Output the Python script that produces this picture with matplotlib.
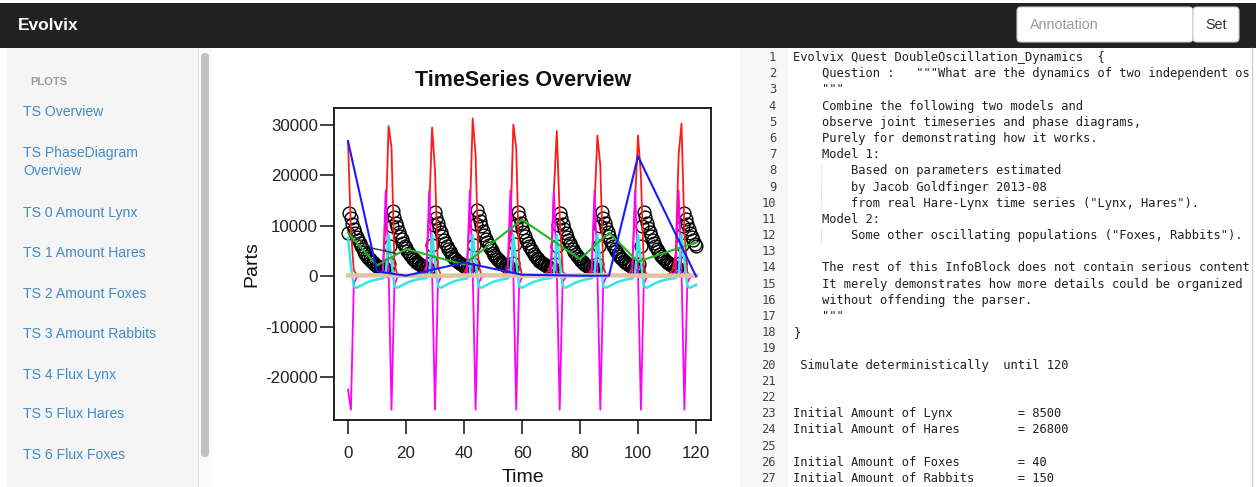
import numpy as np
import matplotlib.pyplot as plt
from matplotlib.patches import Rectangle, FancyBboxPatch

# simulation output, one value per time unit
t = list(range(0, 121))

hares = [26800, 9000, 1200, 300, 120, 80, 60, 60, 80, 110,
         160, 300, 700, 11000, 29800, 25500, 2500, 300, 100, 60,
         50, 60, 80, 120, 180, 320, 700, 1800, 13000, 29500,
         21000, 1800, 250, 90, 60, 50, 60, 90, 140, 260,
         600, 1800, 12000, 31300, 24000, 2200, 280, 100, 60, 50,
         60, 90, 140, 260, 600, 1500, 9000, 30100, 25500, 2600,
         300, 100, 60, 50, 60, 80, 120, 200, 400, 900,
         2500, 17000, 28800, 12000, 1000, 200, 80, 50, 50, 60,
         90, 150, 280, 600, 1500, 14000, 27900, 22000, 1900, 250,
         90, 60, 50, 60, 90, 150, 280, 600, 1600, 15000,
         27900, 20000, 1600, 220, 80, 50, 50, 60, 90, 150,
         280, 550, 1300, 4500, 24000, 30300, 9000, 800, 180, 80,
         60]

flux_hares = [-22500, -26500, -1500, -200, 50, 50, 50, 50, 50, 60,
              80, 150, 600, 17000, 1000, -26500, -1800, -200, 40, 40,
              40, 50, 60, 80, 100, 150, 250, 500, 17000, 1000,
              -26500, -1500, -200, 40, 40, 40, 50, 60, 80, 150,
              250, 500, 17000, 1000, -26500, -1500, -200, 40, 40, 40,
              50, 60, 80, 150, 250, 400, 17000, 1000, -26500, -1500,
              -200, 40, 40, 40, 50, 60, 80, 120, 200, 350,
              600, 17000, 800, -26500, -1200, -200, 40, 40, 40, 50,
              60, 80, 150, 250, 500, 17000, 1000, -26500, -1500, -200,
              40, 40, 40, 50, 60, 80, 150, 250, 500, 17000,
              1000, -26500, -1500, -200, 40, 40, 40, 50, 60, 80,
              150, 250, 400, 800, 17000, 1000, -26500, -1300, -200, -50,
              -20]

flux_lynx = [7600, 2000, -2000, -2300, -2000, -1700, -1400, -1150, -950, -800,
             -650, -550, -450, 300, 8200, 3000, -2000, -2300, -2000, -1700,
             -1400, -1150, -950, -800, -650, -550, -450, -380, 300, 8200,
             3000, -2000, -2300, -2000, -1700, -1400, -1150, -950, -800, -650,
             -550, -450, 300, 8200, 3000, -2000, -2300, -2000, -1700, -1400,
             -1150, -950, -800, -650, -550, -450, 300, 8200, 3000, -2000,
             -2300, -2000, -1700, -1400, -1150, -950, -800, -650, -550, -450,
             -380, 300, 8200, 3000, -2000, -2300, -2000, -1700, -1400, -1150,
             -950, -800, -650, -550, -450, 300, 8200, 3000, -2000, -2300,
             -2000, -1700, -1400, -1150, -950, -800, -650, -550, -450, 300,
             8200, 3000, -2000, -2300, -2000, -1700, -1400, -1150, -950, -800,
             -650, -550, -450, -380, 300, 8200, 3000, -2000, -2300, -2000,
             -1700]

# lynx is reported every half time unit
t_lynx = np.arange(0, 120.5, 0.5)
lynx = [8500,
        12600, 11450, 10400, 9450, 8600, 7850, 7150, 6500, 5900, 5350, 4850, 4450, 4050, 3650,
        3350, 3050, 2750, 2500, 2300, 2100, 1900, 1750, 1600, 1500, 1400, 1350, 1300,
        2500, 6000, 10000,
        12900, 11700, 10650, 9700, 8800, 8000, 7300, 6650, 6050, 5500, 5000, 4550, 4150,
        3750, 3450, 3150, 2850, 2600, 2400, 2200, 2000, 1850, 1700, 1600, 1500, 1450,
        2600, 6200, 10200,
        12800, 11600, 10550, 9600, 8750, 7950, 7250, 6600, 6000, 5450, 4950, 4500, 4100,
        3700, 3400, 3100, 2800, 2550, 2350, 2150, 1950, 1800, 1650, 1550, 1450, 1400,
        2500, 6100, 10300,
        13200, 12000, 10900, 9900, 9000, 8200, 7450, 6800, 6150, 5600, 5100, 4650, 4200,
        3800, 3500, 3200, 2900, 2650, 2400, 2200, 2000, 1850, 1700, 1600, 1500,
        2700, 6300, 10200,
        12800, 11650, 10600, 9650, 8750, 7950, 7250, 6600, 6000, 5450, 4950, 4500, 4100,
        3700, 3400, 3100, 2800, 2550, 2350, 2150, 1950, 1800, 1650, 1550, 1450, 1400,
        2500, 6000, 10100,
        12600, 11450, 10400, 9450, 8600, 7850, 7150, 6500, 5900, 5350, 4850, 4450, 4050,
        3650, 3350, 3050, 2750, 2500, 2300, 2100, 1900, 1750, 1600, 1500, 1400, 1350,
        2400, 5900, 9900,
        12700, 11550, 10500, 9550, 8700, 7900, 7200, 6550, 5950, 5400, 4900, 4500, 4100,
        3700, 3400, 3100, 2800, 2550, 2350, 2150, 1950, 1800, 1650, 1550, 1450, 1400,
        2500, 6000, 10000,
        12800, 11650, 10600, 9650, 8750, 7950, 7250, 6600, 6000, 5450, 4950, 4500, 4100,
        3700, 3400, 3100, 2800, 2550, 2350, 2150, 1950, 1800, 1650, 1550, 1450,
        2600, 6100, 10000,
        12500, 11400, 10350, 9400, 8550, 7800, 7100, 6450, 5900]

# coarse samples
t_coarse = [0, 10, 20, 40, 60, 80, 90, 100, 120]
hares_coarse = [26800, 950, 100, 2700, 300, 100, 100, 23800, 0]
lynx_coarse = [8600, 2100, 5400, 2300, 11200, 3400, 8600, 2900, 6700]

t_grey = [0, 8, 17]
grey_vals = [8600, 5600, 4450]

t_small = [0, 10, 20, 30, 40, 50, 60, 70, 80, 90, 100, 110, 120]
rabbits = [150, 180, 120, 90, 140, 170, 110, 95, 150, 175, 115, 100, 145]
foxes = [40, 35, 55, 60, 38, 33, 52, 62, 40, 34, 50, 60, 42]

xticks = [0, 20, 40, 60, 80, 100, 120]
yticks = [-20000, -10000, 0, 10000, 20000, 30000]
ytick_labels = ['-20000', '-10000', '0', '10000', '20000', '30000']

plot_links = ['TS Overview', 'TS PhaseDiagram\nOverview', 'TS 0 Amount Lynx',
              'TS 1 Amount Hares', 'TS 2 Amount Foxes', 'TS 3 Amount Rabbits',
              'TS 4 Flux Lynx', 'TS 5 Flux Hares', 'TS 6 Flux Foxes']

code_lines = [
    'Evolvix Quest DoubleOscillation_Dynamics  {',
    '    Question :   """What are the dynamics of two independent os',
    '    """',
    '    Combine the following two models and',
    '    observe joint timeseries and phase diagrams,',
    '    Purely for demonstrating how it works.',
    '    Model 1:',
    '        Based on parameters estimated',
    '        by Jacob Goldfinger 2013-08',
    '        from real Hare-Lynx time series ("Lynx, Hares").',
    '    Model 2:',
    '        Some other oscillating populations ("Foxes, Rabbits").',
    '',
    '    The rest of this InfoBlock does not contain serious content',
    '    It merely demonstrates how more details could be organized',
    '    without offending the parser.',
    '    """',
    '}',
    '',
    ' Simulate deterministically  until 120',
    '',
    '',
    'Initial Amount of Lynx         = 8500',
    'Initial Amount of Hares        = 26800',
    '',
    'Initial Amount of Foxes        = 40',
    'Initial Amount of Rabbits      = 150',
]

W, H = 1256, 487
fig = plt.figure(figsize=(W / 100, H / 100), dpi=100)
ui = 'Liberation Sans'

# page layer in pixel coordinates
bg = fig.add_axes([0, 0, 1, 1])
bg.set_xlim(0, W)
bg.set_ylim(H, 0)
bg.axis('off')

# top bar
bg.add_patch(Rectangle((0, 3), W, 45, color='#222222', lw=0))
bg.text(18, 25, 'Evolvix', color='white', fontsize=12.5, fontweight='bold',
        family=ui, va='center')
bg.add_patch(FancyBboxPatch((1017, 7), 176, 35, boxstyle='round,pad=0,rounding_size=4',
                            fc='white', ec='#cccccc', lw=0.8))
bg.text(1030, 25, 'Annotation', color='#999999', fontsize=10.3, family=ui, va='center')
bg.add_patch(FancyBboxPatch((1193, 7), 46, 35, boxstyle='round,pad=0,rounding_size=4',
                            fc='white', ec='#cccccc', lw=0.8))
bg.text(1216, 25, 'Set', color='#333333', fontsize=10.3, family=ui,
        va='center', ha='center')

# sidebar
bg.add_patch(Rectangle((7, 48), 191, H - 48, color='#f5f5f5', lw=0))
bg.add_patch(Rectangle((198, 48), 14, H - 48, color='#fafafa', lw=0))
bg.plot([198, 198], [48, H], color='#e3e3e3', lw=0.8)
bg.add_patch(FancyBboxPatch((201, 53), 8, 404, boxstyle='round,pad=0,rounding_size=4',
                            fc='#c1c1c1', ec='none'))
bg.text(30, 82, 'PLOTS', color='#999999', fontsize=8, fontweight='bold',
        family=ui, va='center')
link_y = [111.5, 162, 212.5, 253, 293.5, 334, 374.5, 414.5, 455]
for label, y in zip(plot_links, link_y):
    bg.text(23, y, label, color='#428bca', fontsize=10.1, family=ui,
            va='center', linespacing=1.45)

# code panel
bg.add_patch(Rectangle((740, 48), 48, H - 48, color='#f7f7f7', lw=0))
bg.plot([1252, 1252], [48, H], color='#d0d0d0', lw=1)
for y0, y1 in [(57 + 6.5 * 16.19, 57 + 9.5 * 16.19), (57 + 10.5 * 16.19, 57 + 11.5 * 16.19)]:
    bg.plot([821, 821], [y0, y1], color='#cfcfcf', lw=0.6, ls=(0, (1, 1)))
for i, line in enumerate(code_lines):
    y = 57.5 + i * 16.19
    bg.text(776, y, str(i + 1), color='#444444', fontsize=8.7,
            family='DejaVu Sans Mono', va='center', ha='right')
    bg.text(793.3, y, line, color='#222222', fontsize=8.7,
            family='DejaVu Sans Mono', va='center')

# chart titles and axis labels
bg.text(523, 80, 'TimeSeries Overview', fontsize=15.5, fontweight='bold',
        family=ui, ha='center', va='center', color='#111111')
bg.text(252, 264, 'Parts', fontsize=14, family=ui, rotation=90,
        ha='center', va='center', color='#111111')
bg.text(522.5, 478, 'Time', fontsize=14, family=ui, ha='center', va='center',
        color='#111111')

# the chart itself
ax = fig.add_axes([334 / W, (H - 420) / H, 377 / W, 312 / H])
ax.set_facecolor('white')
ax.plot(t_lynx, lynx, ls='none', marker='o', ms=9.2, mfc='none', mec='black', mew=1.0, zorder=2)
ax.plot(t, hares, color='#ff1a1a', lw=1.3, zorder=3)
ax.plot(t, flux_hares, color='#ff00ff', lw=1.3, zorder=3)
ax.plot(t, flux_lynx, color='#33e6e6', lw=1.8, zorder=3)
ax.plot(t_grey, grey_vals, color='#333333', lw=1.0, zorder=3)
ax.plot(t_small, rabbits, color='#d6cb98', lw=3.2, zorder=4)
ax.plot(t_small, foxes, color='#f2b8b0', lw=1.2, zorder=4)
ax.plot(t_coarse, lynx_coarse, color='#1fb81f', lw=1.5, zorder=5)
ax.plot(t_coarse, hares_coarse, color='#1a1aff', lw=1.5, zorder=5)

ax.set_xlim(-4.83, 125.17)
ax.set_ylim(-28530, 33370)
ax.set_xticks(xticks)
ax.set_xticklabels([str(v) for v in xticks])
ax.set_yticks(yticks)
ax.set_yticklabels(ytick_labels)
for s in ax.spines.values():
    s.set_linewidth(1.3)
    s.set_color('#111111')
ax.tick_params(axis='both', direction='out', width=1.1, color='#111111',
               labelsize=12.2, labelcolor='#222222')
ax.tick_params(axis='y', length=10, pad=1.5)
ax.tick_params(axis='x', length=10, pad=9)
for lab in ax.get_xticklabels() + ax.get_yticklabels():
    lab.set_family(ui)

fig.savefig('out.png', dpi=100)
